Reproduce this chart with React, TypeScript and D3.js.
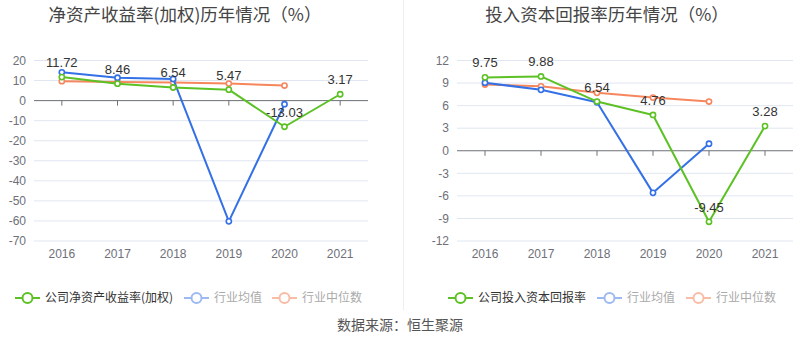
import React from "react";
import * as d3 from "d3";

const years = ["2016", "2017", "2018", "2019", "2020", "2021"];

const roeCompany: (number | null)[] = [11.72, 8.46, 6.54, 5.47, -13.03, 3.17];
const roeMean: (number | null)[] = [14.1, 11.4, 10.8, -60.2, -1.8, null];
const roeMedian: (number | null)[] = [9.7, 9.3, 9.0, 8.5, 7.5, null];
const roeTicks = [20, 10, 0, -10, -20, -30, -40, -50, -60, -70];

const roicCompany: (number | null)[] = [9.75, 9.88, 6.54, 4.76, -9.45, 3.28];
const roicMean: (number | null)[] = [9.05, 8.1, 6.45, -5.6, 0.93, null];
const roicMedian: (number | null)[] = [8.8, 8.57, 7.7, 7.07, 6.54, null];
const roicTicks = [12, 9, 6, 3, 0, -3, -6, -9, -12];

const titles = ["净资产收益率(加权)历年情况（%）", "投入资本回报率历年情况（%）"];
const legendCompany = ["公司净资产收益率(加权)", "公司投入资本回报率"];
const legendMean = "行业均值";
const legendMedian = "行业中位数";
const source = "数据来源：恒生聚源";

const GREEN = "#5cc124";
const BLUE = "#3470e6";
const ORANGE = "#f6875d";
const FONT = "'Noto Sans CJK SC', 'Liberation Sans', sans-serif";
const NUMFONT = "'Liberation Sans', Arial, sans-serif";

type PanelProps = {
  x0: number;
  x1: number;
  domain: [number, number];
  ticks: number[];
  company: (number | null)[];
  mean: (number | null)[];
  median: (number | null)[];
  title: string;
  titleX: number;
};

function Series({ data, color, x, y, labels }: { data: (number | null)[]; color: string; x: d3.ScaleBand<string>; y: d3.ScaleLinear<number, number>; labels?: boolean }) {
  const pts = years.map((yr, i) => ({ yr, v: data[i] }));
  const line = d3
    .line<{ yr: string; v: number | null }>()
    .defined((d) => d.v !== null)
    .x((d) => (x(d.yr) as number) + x.bandwidth() / 2)
    .y((d) => y(d.v as number));
  return (
    <g>
      <path d={line(pts) || ""} fill="none" stroke={color} strokeWidth={2} strokeLinejoin="round" />
      {pts
        .filter((d) => d.v !== null)
        .map((d) => (
          <circle key={d.yr} cx={(x(d.yr) as number) + x.bandwidth() / 2} cy={y(d.v as number)} r={2.6} fill="#fff" stroke={color} strokeWidth={1.6} />
        ))}
      {labels &&
        pts
          .filter((d) => d.v !== null)
          .map((d) => (
            <text key={"l" + d.yr} x={(x(d.yr) as number) + x.bandwidth() / 2} y={y(d.v as number) - 10} textAnchor="middle" fontSize={13} fill="#333" fontFamily={NUMFONT}>
              {(d.v as number).toFixed(2)}
            </text>
          ))}
    </g>
  );
}

function Panel(p: PanelProps) {
  const x = d3.scaleBand<string>().domain(years).range([p.x0, p.x1]);
  const y = d3.scaleLinear().domain(p.domain).range([241, 60.5]);
  return (
    <g>
      <text x={p.titleX} y={21} textAnchor="middle" fontSize={17.5} fill="#444" fontFamily={FONT}>
        {p.title}
      </text>
      {p.ticks.map((t) => (
        <g key={t}>
          {t !== 0 && <line x1={p.x0} x2={p.x1} y1={y(t)} y2={y(t)} stroke="#e0e6f1" strokeWidth={1} />}
          <text x={p.x0 - 8} y={y(t)} dy="0.35em" textAnchor="end" fontSize={12} fill="#6e7079" fontFamily={NUMFONT}>
            {t}
          </text>
        </g>
      ))}
      <line x1={p.x0} x2={p.x1} y1={y(0)} y2={y(0)} stroke="#6e7079" strokeWidth={1} />
      {years.map((yr) => {
        const cx = (x(yr) as number) + x.bandwidth() / 2;
        return (
          <g key={yr}>
            <line x1={cx} x2={cx} y1={y(0)} y2={y(0) + 5} stroke="#6e7079" strokeWidth={1} />
            <text x={cx} y={254} dy="0.35em" textAnchor="middle" fontSize={12} fill="#6e7079" fontFamily={NUMFONT}>
              {yr}
            </text>
          </g>
        );
      })}
      <Series data={p.median} color={ORANGE} x={x} y={y} />
      <Series data={p.mean} color={BLUE} x={x} y={y} />
      <Series data={p.company} color={GREEN} x={x} y={y} labels />
    </g>
  );
}

function LegendItem({ x, color, label, textColor }: { x: number; color: string; label: string; textColor: string }) {
  const cy = 298;
  return (
    <g>
      <line x1={x} x2={x + 25} y1={cy} y2={cy} stroke={color} strokeWidth={2} />
      <circle cx={x + 12.5} cy={cy} r={5} fill="#fff" stroke={color} strokeWidth={2} />
      <text x={x + 30} y={cy} dy="0.35em" fontSize={12} fill={textColor} fontFamily={FONT}>
        {label}
      </text>
    </g>
  );
}

export default function App() {
  return (
    <svg width={800} height={358} style={{ position: "absolute", left: 0, top: 0, background: "#fff" }}>
      <rect width={800} height={358} fill="#fff" />
      <line x1={403.5} x2={403.5} y1={0} y2={310} stroke="#eeeeee" strokeWidth={1} />
      <Panel x0={34} x1={368} domain={[-70, 20]} ticks={roeTicks} company={roeCompany} mean={roeMean} median={roeMedian} title={titles[0]} titleX={185} />
      <Panel x0={457} x1={793} domain={[-12, 12]} ticks={roicTicks} company={roicCompany} mean={roicMean} median={roicMedian} title={titles[1]} titleX={607} />
      <LegendItem x={15} color={GREEN} label={legendCompany[0]} textColor="#333" />
      <LegendItem x={184} color="#9cb9f2" label={legendMean} textColor="#aaa" />
      <LegendItem x={272} color="#f9bca6" label={legendMedian} textColor="#aaa" />
      <LegendItem x={448} color={GREEN} label={legendCompany[1]} textColor="#333" />
      <LegendItem x={597} color="#9cb9f2" label={legendMean} textColor="#aaa" />
      <LegendItem x={686} color="#f9bca6" label={legendMedian} textColor="#aaa" />
      <text x={400} y={325} dy="0.35em" textAnchor="middle" fontSize={14} fill="#555" fontFamily={FONT}>
        {source}
      </text>
    </svg>
  );
}
